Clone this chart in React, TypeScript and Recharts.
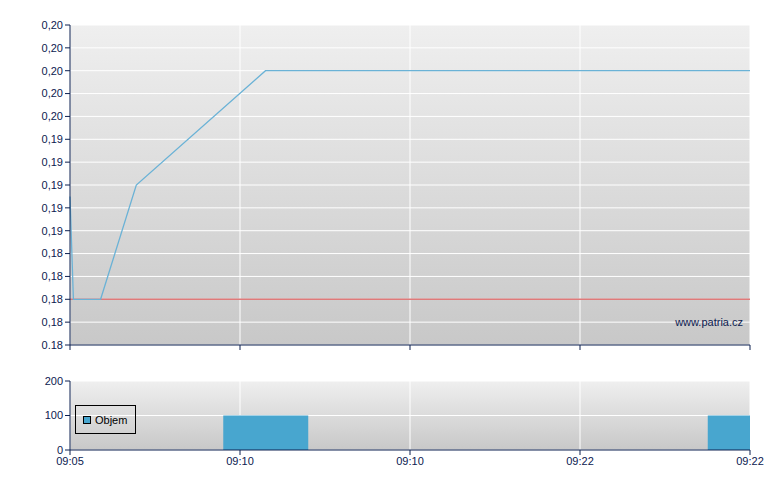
import {
  LineChart,
  Line,
  BarChart,
  Bar,
  XAxis,
  YAxis,
  CartesianGrid,
  ReferenceLine,
  Legend,
} from 'recharts'

// price line (x = position on the session axis, 0..4)
const priceX = [0, 0.02, 0.18, 0.39, 1.15, 4]
const priceY = [0.189, 0.18, 0.18, 0.19, 0.2, 0.2]
const refPrice = 0.18

// volume bars
const volumeX = [1.15, 4]
const volumeY = [100, 100]

const xTicks = [0, 1, 2, 3, 4]
const xTickLabels = ['09:05', '09:10', '09:10', '09:22', '09:22']

const yTicks = [0.176, 0.178, 0.18, 0.182, 0.184, 0.186, 0.188, 0.19, 0.192, 0.194, 0.196, 0.198, 0.2, 0.202, 0.204]
const yTickLabels = ['0.18', '0,18', '0,18', '0,18', '0,18', '0,19', '0,19', '0,19', '0,19', '0,19', '0,20', '0,20', '0,20', '0,20', '0,20']
const volTicks = [0, 100, 200]

const NAVY = '#0c2050'
const FONT = '"Liberation Sans", Arial, sans-serif'

const priceData = priceX.map((x, i) => ({ x, price: priceY[i] }))
const volumeData = volumeX.map((x, i) => ({ x, volume: volumeY[i] }))

const tickStyle = { fill: NAVY, fontSize: 11, fontFamily: FONT }

function Bg({ id }: { id: string }) {
  return (
    <defs>
      <linearGradient id={id} x1="0" y1="0" x2="0" y2="1">
        <stop offset="0%" stopColor="#efefef" />
        <stop offset="100%" stopColor="#c8c8c8" />
      </linearGradient>
    </defs>
  )
}

function LegendBox() {
  return (
    <div
      style={{
        border: '1px solid #000',
        width: 61,
        height: 29,
        display: 'flex',
        alignItems: 'center',
        boxSizing: 'border-box',
        paddingLeft: 7,
        fontFamily: FONT,
        fontSize: 11,
        color: '#000',
      }}
    >
      <span
        style={{
          display: 'inline-block',
          width: 6,
          height: 6,
          background: '#48a6cf',
          border: '1px solid #000',
          marginRight: 4,
        }}
      />
      Objem
    </div>
  )
}

export default function App() {
  return (
    <div style={{ position: 'absolute', left: 0, top: 0, width: 780, height: 490, background: '#fff' }}>
      <div style={{ position: 'absolute', left: 0, top: 0 }}>
        <LineChart width={780} height={360} data={priceData} margin={{ top: 25, right: 30, bottom: 0, left: 0 }}>
          <Bg id="bgTop" />
          <CartesianGrid stroke="#ffffff" strokeWidth={1} fill="url(#bgTop)" fillOpacity={1} />
          <XAxis
            dataKey="x"
            type="number"
            domain={[0, 4]}
            ticks={xTicks}
            tickFormatter={() => ''}
            height={15}
            axisLine={{ stroke: NAVY }}
            tickLine={{ stroke: NAVY }}
            tickSize={5}
          />
          <YAxis
            type="number"
            domain={[0.176, 0.204]}
            ticks={yTicks}
            tickFormatter={(v: number, i: number) => yTickLabels[i]}
            width={70}
            tick={tickStyle}
            axisLine={{ stroke: NAVY }}
            tickLine={{ stroke: NAVY }}
            tickSize={5}
            tickMargin={2}
            interval={0}
          />
          <ReferenceLine y={refPrice} stroke="#df7a7a" strokeWidth={1.5} />
          <Line
            type="linear"
            dataKey="price"
            stroke="#6ab2d6"
            strokeWidth={1.3}
            dot={false}
            isAnimationActive={false}
          />
        </LineChart>
      </div>
      <div
        style={{
          position: 'absolute',
          left: 600,
          width: 143,
          top: 316,
          textAlign: 'right',
          fontFamily: FONT,
          fontSize: 11,
          color: NAVY,
        }}
      >
        www.patria.cz
      </div>
      <div style={{ position: 'absolute', left: 0, top: 360 }}>
        <BarChart width={780} height={130} data={volumeData} margin={{ top: 21, right: 30, bottom: 0, left: 0 }}>
          <Bg id="bgBottom" />
          <CartesianGrid stroke="#ffffff" strokeWidth={1} fill="url(#bgBottom)" fillOpacity={1} />
          <XAxis
            dataKey="x"
            type="number"
            domain={[0, 4]}
            ticks={xTicks}
            tickFormatter={(v: number, i: number) => xTickLabels[i]}
            height={40}
            tick={tickStyle}
            axisLine={{ stroke: NAVY }}
            tickLine={{ stroke: NAVY }}
            tickSize={5}
            tickMargin={2}
            interval={0}
            allowDataOverflow
          />
          <YAxis
            type="number"
            domain={[0, 200]}
            ticks={volTicks}
            width={70}
            tick={tickStyle}
            axisLine={{ stroke: NAVY }}
            tickLine={{ stroke: NAVY }}
            tickSize={5}
            tickMargin={2}
            interval={0}
          />
          <Legend
            verticalAlign="middle"
            align="center"
            layout="horizontal"
            content={() => <LegendBox />}
            wrapperStyle={{ left: 75, top: 45, width: 'auto', height: 'auto' }}
          />
          <Bar dataKey="volume" name="Objem" fill="#48a6cf" barSize={85} isAnimationActive={false} />
        </BarChart>
      </div>
    </div>
  )
}
